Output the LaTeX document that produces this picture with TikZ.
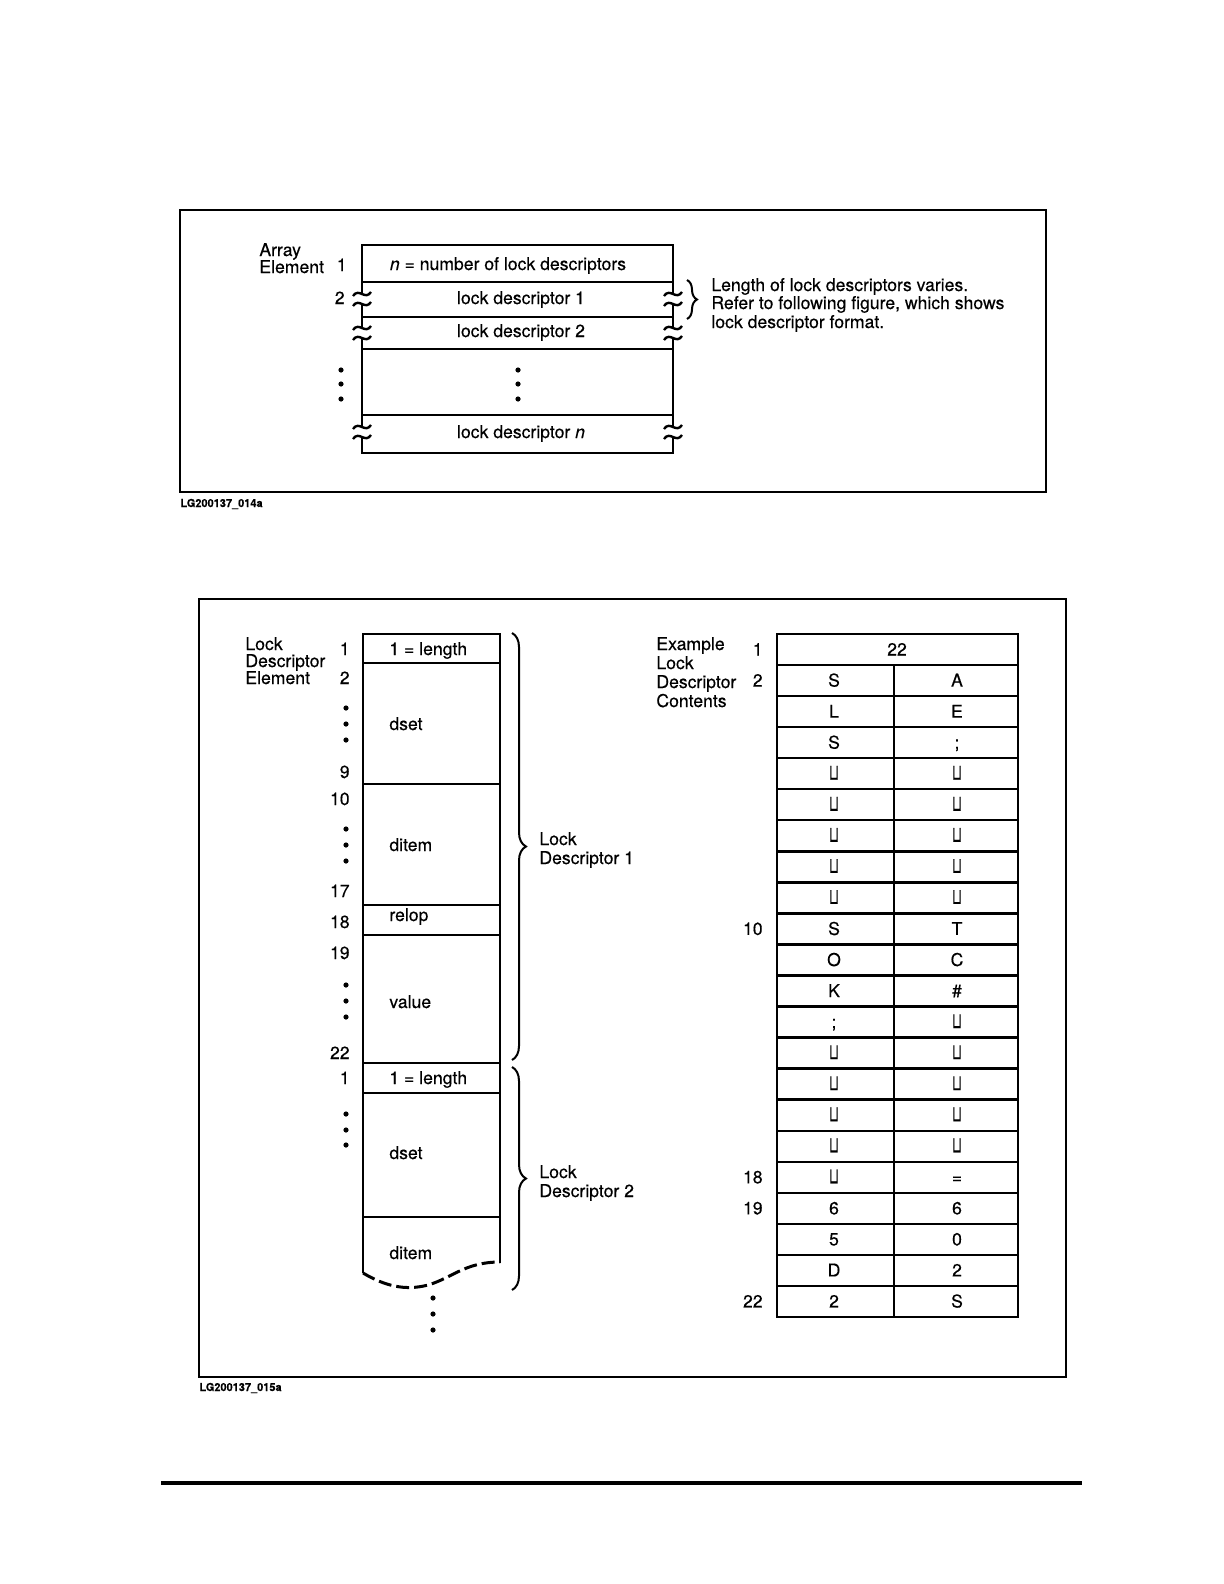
\documentclass[tikz,border=0pt]{standalone}
\usepackage{fontspec}
\setmainfont{TeX Gyre Heros}[FakeBold=0.35]
\newfontfamily\symf{DejaVu Sans}[FakeBold=0.5]
\usepackage{graphicx}
\usetikzlibrary{decorations.pathreplacing}
\newcommand{\blk}{\scalebox{0.72}[1.25]{\symf ⊔}}
\begin{document}
\begin{tikzpicture}[x=0.5pt,y=-0.5pt,
  txt/.style={font=\fontsize{8.8}{9}\selectfont, inner sep=0pt},
  lt/.style={txt, anchor=base west},
  rt/.style={txt, anchor=base east},
  ct/.style={txt, anchor=base},
  capt/.style={font=\fontsize{5.5}{6}\selectfont\bfseries, inner sep=0pt, anchor=base west},
  frame/.style={line width=1.2pt},
  edge/.style={line width=1.4pt},
  sep/.style={line width=1.2pt},
  thinsep/.style={line width=0.9pt},
  brc/.style={line width=1pt, decorate},
  brk/.pic={
    \fill[white] (-9,-3) .. controls (-3,-12) and (3,2) .. (9,-7) -- (9,7) .. controls (3,12) and (-3,-2) .. (-9,3) -- cycle;
    \draw[line width=1.2pt] (-9,-3) .. controls (-3,-12) and (3,2) .. (9,-7);
    \draw[line width=1.2pt] (-9,7) .. controls (-3,-2) and (3,12) .. (9,3);
  }
]
\useasboundingbox (0,0) rectangle (1224,1584);

% ================= upper figure =================
\draw[frame] (180,210) rectangle (1046,492);
\node[capt] (cap1) at (180,507) {LG200137\_014a};

\draw[edge] (362,245) rectangle (673,453);
\draw[thinsep] (362,282) -- (673,282);
\draw[sep] (362,317) -- (673,317);
\draw[sep] (362,349) -- (673,349);
\draw[sep] (362,415) -- (673,415);

\foreach \yy [count=\k] in {299,333,432}{
  \pic (bl\k) at (362,\yy) {brk};
  \pic (br\k) at (673,\yy) {brk};
}

\node[lt] (arr1) at (259,256) {Array};
\node[lt] (arr2) at (259,273) {Element};
\node[rt] (u1) at (347,271) {1};
\node[rt] (u2) at (345,304) {2};
\node[ct] (un) at (508,270) {\textit{n} = number of lock descriptors};
\node[ct] (ul1) at (521,304) {lock descriptor 1};
\node[ct] (ul2) at (521,337) {lock descriptor 2};
\node[ct] (uln) at (521,438) {lock descriptor \textit{n}};
\foreach \yy in {370,384,399}{
  \fill (341,\yy) circle[radius=1.3pt];
  \fill (518,\yy) circle[radius=1.3pt];
}
\coordinate (ubt) at (687,280);
\coordinate (ubb) at (687,319);
\draw[brc, decoration={brace, amplitude=5pt}] (ubt) -- (ubb);
\node[lt] (ur1) at (711,291) {Length of lock descriptors varies.};
\node[lt] (ur2) at (711,309) {Refer to following figure, which shows};
\node[lt] (ur3) at (711,328) {lock descriptor format.};

% ================= lower figure =================
\draw[frame] (199,599) rectangle (1066,1377);
\node[capt] (cap2) at (199,1391) {LG200137\_015a};

% left column
\draw[edge] (500,1263) -- (500,634) -- (363,634) -- (363,1273);
\draw[thinsep] (363,663) -- (500,663);
\draw[sep] (363,784) -- (500,784);
\draw[sep] (363,905) -- (500,905);
\draw[sep] (363,935) -- (500,935);
\draw[sep] (363,1063) -- (500,1063);
\draw[thinsep] (363,1093) -- (500,1093);
\draw[thinsep] (363,1217) -- (500,1217);
\draw[line width=1.5pt, dash pattern=on 6.5pt off 2.5pt] (363,1273) .. controls (385,1286) and (405,1291) .. (428,1285) .. controls (452,1278) and (465,1262) .. (500,1262);
\foreach \yy in {1298,1314,1330} \fill (433,\yy) circle[radius=1.3pt];

\node[lt] (le1) at (245,650) {Lock};
\node[lt] (le2) at (245,667) {Descriptor};
\node[lt] (le3) at (245,684) {Element};

\foreach \n/\yy in {1/655,2/684,9/778,10/805,17/897,18/928,19/959,22/1059,1/1084}
  \node[rt] at (350,\yy) {\n};
\foreach \yy in {708,724,740,829,845,861,985,1001,1017,1114,1130,1145}
  \fill (346,\yy) circle[radius=1.3pt];

\node[lt] (f1) at (389,655) {1 = length};
\node[lt] (f2) at (389,730) {dset};
\node[lt] (f3) at (389,851) {ditem};
\node[lt] (f4) at (389,921) {relop};
\node[lt] (f5) at (389,1008) {value};
\node[lt] (f6) at (389,1084) {1 = length};
\node[lt] (f7) at (389,1159) {dset};
\node[lt] (f8) at (389,1259) {ditem};

\coordinate (b1t) at (512,633);
\coordinate (b1b) at (512,1060);
\coordinate (b2t) at (512,1067);
\coordinate (b2b) at (512,1290);
\draw[brc, decoration={brace, amplitude=7pt}] (b1t) -- (b1b);
\draw[brc, decoration={brace, amplitude=7pt}] (b2t) -- (b2b);
\node[lt] (ld1a) at (539,845) {Lock};
\node[lt] (ld1b) at (539,864) {Descriptor 1};
\node[lt] (ld2a) at (539,1178) {Lock};
\node[lt] (ld2b) at (539,1197) {Descriptor 2};

% right table
\node[lt] (ex1) at (656,650) {Example};
\node[lt] (ex2) at (656,669) {Lock};
\node[lt] (ex3) at (656,688) {Descriptor};
\node[lt] (ex4) at (656,707) {Contents};

\def\rh{31.045}
\draw[edge] (777,634) rectangle (1018,1317);
\foreach \k in {1,...,21}
  \draw[sep] (777,634+\k*\rh) -- (1018,634+\k*\rh);
\draw[sep] (894,634+\rh) -- (894,1317);

\foreach \n in {1,2,10,18,19,22}
  \node[rt] at (763,634+\n*\rh-\rh/2+6) {\n};

\node[ct] (c1) at (897,634+\rh/2+6) {22};
\foreach \a/\b [count=\i from 2] in {S/A,L/E,S/;,\blk/\blk,\blk/\blk,\blk/\blk,\blk/\blk,\blk/\blk,S/T,O/C,K/\#,;/\blk,\blk/\blk,\blk/\blk,\blk/\blk,\blk/\blk,\blk/=,6/6,5/0,D/2,2/S}{
  \node[ct] (c\i l) at (834,634+\i*\rh-\rh/2+6) {\a};
  \node[ct] (c\i r) at (957,634+\i*\rh-\rh/2+6) {\b};
}

% page rule
\coordinate (rl) at (161,1483);
\coordinate (rr) at (1082,1483);
\draw[line width=1.8pt] (rl) -- (rr);
\end{tikzpicture}
\end{document}
